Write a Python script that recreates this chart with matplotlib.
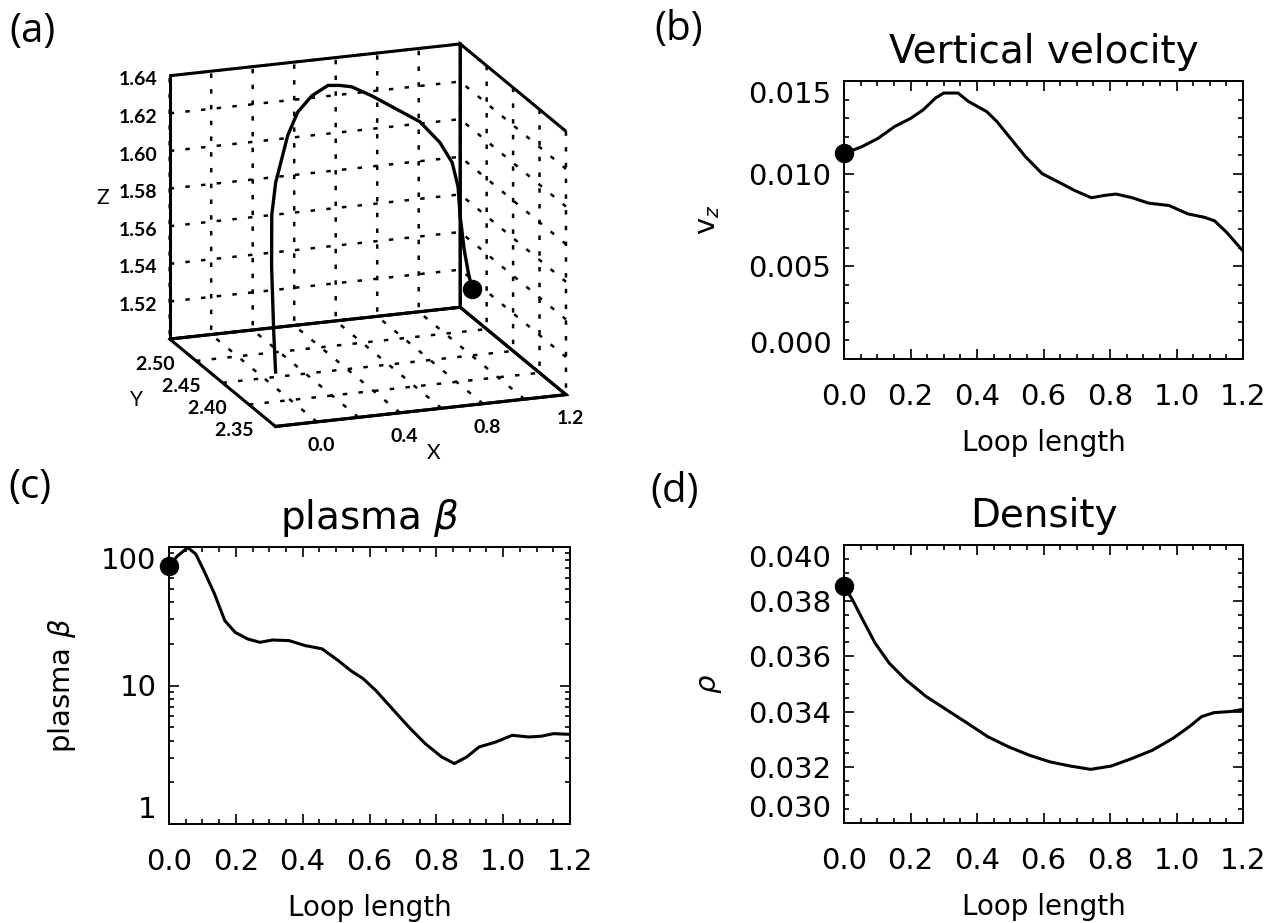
import matplotlib
matplotlib.use('Agg')
import matplotlib.pyplot as plt
from matplotlib.ticker import MultipleLocator, LogLocator, NullFormatter

# ---- (a) loop path in 3D, traced from the marked footpoint (loop length 0)
loop_x = [1.130, 1.116, 1.099, 1.082, 1.075, 1.049, 0.993, 0.899, 0.786, 0.673, 0.576,
          0.513, 0.443, 0.350, 0.264, 0.198, 0.156, 0.117, 0.088, 0.077, 0.077, 0.081]
loop_y = [2.500, 2.502, 2.503, 2.504, 2.505, 2.506, 2.507, 2.508, 2.509, 2.510, 2.510,
          2.508, 2.503, 2.497, 2.490, 2.483, 2.478, 2.474, 2.470, 2.466, 2.462, 2.460]
loop_z = [1.522, 1.531, 1.543, 1.561, 1.576, 1.589, 1.600, 1.612, 1.620, 1.628, 1.634,
          1.636, 1.638, 1.635, 1.629, 1.619, 1.608, 1.597, 1.581, 1.555, 1.521, 1.500]

x3d_ticks = [-0.2, 0.0, 0.2, 0.4, 0.6, 0.8, 1.0, 1.2]
x3d_labels = ['', '0.0', '', '0.4', '', '0.8', '', '1.2']
y3d_ticks = [2.35, 2.40, 2.45, 2.50, 2.55]
y3d_labels = ['2.35', '2.40', '2.45', '2.50', '']
z3d_ticks = [1.50, 1.52, 1.54, 1.56, 1.58, 1.60, 1.62, 1.64]
z3d_labels = ['', '1.52', '1.54', '1.56', '1.58', '1.60', '1.62', '1.64']

# ---- (b) vertical velocity
vz_s = [0.000, 0.053, 0.102, 0.152, 0.201, 0.238, 0.275, 0.300, 0.343, 0.374, 0.429, 0.460,
        0.497, 0.546, 0.596, 0.645, 0.694, 0.744, 0.781, 0.818, 0.867, 0.916, 0.978, 1.034,
        1.083, 1.114, 1.151, 1.200]
vz = [0.01109, 0.01145, 0.01190, 0.01254, 0.01299, 0.01344, 0.01408, 0.01435, 0.01435,
      0.01390, 0.01335, 0.01281, 0.01199, 0.01091, 0.01000, 0.00955, 0.00909, 0.00870,
      0.00882, 0.00890, 0.00870, 0.00841, 0.00828, 0.00783, 0.00765, 0.00746, 0.00683,
      0.00583]

# ---- (c) plasma beta
beta_s = [0.000, 0.025, 0.056, 0.080, 0.105, 0.136, 0.167, 0.198, 0.235, 0.272, 0.309,
          0.359, 0.408, 0.458, 0.507, 0.544, 0.581, 0.619, 0.668, 0.718, 0.767, 0.816,
          0.854, 0.891, 0.928, 0.977, 1.027, 1.076, 1.113, 1.151, 1.200]
beta = [73, 86, 99, 89, 67, 46, 29.4, 24.2, 21.7, 20.5, 21.3, 21.1, 19.4, 18.4, 15.1, 12.8,
        11.2, 9.2, 6.8, 5.0, 3.8, 3.05, 2.73, 3.05, 3.6, 3.9, 4.37, 4.25, 4.3, 4.49, 4.44]

# ---- (d) density
rho_s = [0.000, 0.025, 0.056, 0.093, 0.136, 0.186, 0.247, 0.309, 0.371, 0.433, 0.495, 0.557,
         0.619, 0.680, 0.742, 0.804, 0.866, 0.928, 0.990, 1.039, 1.076, 1.113, 1.163, 1.200]
rho = [0.03852, 0.03804, 0.03732, 0.03648, 0.03575, 0.03515, 0.03455, 0.03407, 0.03359,
       0.03310, 0.03274, 0.03244, 0.03220, 0.03205, 0.03193, 0.03205, 0.03232, 0.03262,
       0.03305, 0.03347, 0.03383, 0.03397, 0.03401, 0.03409]

s_ticks = [0.0, 0.2, 0.4, 0.6, 0.8, 1.0, 1.2]
s_labels = ['0.0', '0.2', '0.4', '0.6', '0.8', '1.0', '1.2']
vz_ticks = [0.000, 0.005, 0.010, 0.015]
vz_labels = ['0.000', '0.005', '0.010', '0.015']
beta_ticks = [1, 10, 100]
beta_labels = ['1', '10', '100']
rho_ticks = [0.030, 0.032, 0.034, 0.036, 0.038, 0.040]
rho_labels = ['0.030', '0.032', '0.034', '0.036', '0.038', '0.040']

plt.rcParams['font.family'] = ['DejaVu Sans']
plt.rcParams['mathtext.fontset'] = 'dejavusans'

W, H = 1276, 923
fig = plt.figure(figsize=(W / 100, H / 100), dpi=100)


def rect(left, top, right, bottom):
    return [left / W, 1 - bottom / H, (right - left) / W, (bottom - top) / H]


def style_panel(ax, title, ylabel, yticks, ylabels, ylabel_x):
    ax.set_xlim(0, 1.2)
    ax.set_xticks(s_ticks)
    ax.set_xticklabels(s_labels)
    ax.xaxis.set_minor_locator(MultipleLocator(0.05))
    ax.set_yticks(yticks)
    ax.set_yticklabels(ylabels)
    for sp in ax.spines.values():
        sp.set_linewidth(1.4)
    ax.tick_params(which='both', direction='in', top=True, right=True, width=1.2)
    ax.tick_params(which='major', length=7)
    ax.tick_params(which='minor', length=3.6)
    ax.tick_params(axis='x', labelsize=21, pad=17)
    ax.tick_params(axis='y', labelsize=21, pad=9)
    labs = ax.get_yticklabels()
    labs[0].set_va('bottom')
    labs[-1].set_va('top')
    ax.set_title(title, fontsize=28, pad=13)
    ax.set_xlabel('Loop length', fontsize=20, labelpad=13)
    ax.set_ylabel(ylabel, fontsize=21)
    ax.yaxis.set_label_coords(ylabel_x, 0.5)


# ---- panel (a)
ax = fig.add_axes([0.0498, 0.4659, 0.4663, 0.5439], projection='3d')
ax.set_proj_type('ortho')
ax.view_init(elev=17.5, azim=-110)
ax.set_box_aspect((1, 1, 0.893))
ax.set_xlim(-0.2, 1.2)
ax.set_ylim(2.35, 2.55)
ax.set_zlim(1.50, 1.64)
ax.patch.set_alpha(0)
for axis, ticks, labels in ((ax.xaxis, x3d_ticks, x3d_labels),
                            (ax.yaxis, y3d_ticks, [lab + '  ' for lab in y3d_labels]),
                            (ax.zaxis, z3d_ticks, z3d_labels)):
    axis.set_ticks(ticks)
    axis.set_ticklabels(labels, fontfamily='Lato', fontweight='bold', fontsize=14)
    axis.pane.fill = False
    axis.pane.set_alpha(1)
    axis.pane.set_edgecolor('k')
    axis.pane.set_linewidth(2.2)
    axis.line.set_color('k')
    axis.line.set_linewidth(2.2)
    axis._axinfo['grid'].update(color='k', linestyle=(0, (1.8, 4.5)), linewidth=1.8)
    axis._axinfo['tick'].update(inward_factor=0.0, outward_factor=0.0)
for t in ax.yaxis.get_ticklabels():
    t.set_ha('right')
    t.set_va('bottom')
ax.tick_params(axis='x', pad=0)
ax.tick_params(axis='y', pad=0)
ax.tick_params(axis='z', pad=7)
ax.set_xlabel('X', fontfamily='Lato', fontsize=15, labelpad=2)
ax.set_ylabel('')
ax.set_zlabel('Z', fontfamily='Lato', fontsize=15, labelpad=11)
fig.text(136 / W, 1 - 400 / H, 'Y', fontfamily='Lato', fontsize=15, ha='center', va='center')
ax.plot(loop_x, loop_y, loop_z, color='k', lw=2.4)
ax.plot(loop_x[:1], loop_y[:1], loop_z[:1], 'o', color='k', ms=13)

# ---- panel (b)
ax = fig.add_axes(rect(844, 81, 1243, 359))
ax.plot(vz_s, vz, color='k', lw=2.2)
ax.plot(vz_s[0], vz[0], 'o', color='k', ms=13, clip_on=False)
ax.set_ylim(0.0, 0.015)
ax.yaxis.set_minor_locator(MultipleLocator(0.001))
style_panel(ax, 'Vertical velocity', r'v$_z$', vz_ticks, vz_labels, -0.306)

# ---- panel (c)
ax = fig.add_axes(rect(169, 547, 570, 824))
ax.plot(beta_s, beta, color='k', lw=2.2)
ax.plot(beta_s[0], beta[0], 'o', color='k', ms=13, clip_on=False)
ax.set_yscale('log')
ax.set_ylim(1, 100)
ax.yaxis.set_minor_locator(LogLocator(base=10, subs=range(2, 10)))
ax.yaxis.set_minor_formatter(NullFormatter())
style_panel(ax, r'plasma $\beta$', r'plasma $\beta$', beta_ticks, beta_labels, -0.227)

# ---- panel (d)
ax = fig.add_axes(rect(844, 545, 1243, 823))
ax.plot(rho_s, rho, color='k', lw=2.2)
ax.plot(rho_s[0], rho[0], 'o', color='k', ms=13, clip_on=False)
ax.set_ylim(0.030, 0.040)
ax.yaxis.set_minor_locator(MultipleLocator(0.0005))
style_panel(ax, 'Density', r'$\rho$', rho_ticks, rho_labels, -0.30)

# ---- panel letters
for lab, px, py in (('(a)', 9, 12), ('(b)', 654, 10), ('(c)', 8, 467), ('(d)', 650, 472)):
    fig.text(px / W, 1 - py / H, lab, fontsize=29, family='Open Sans', ha='left', va='top')

fig.savefig('out.png', dpi=100)
